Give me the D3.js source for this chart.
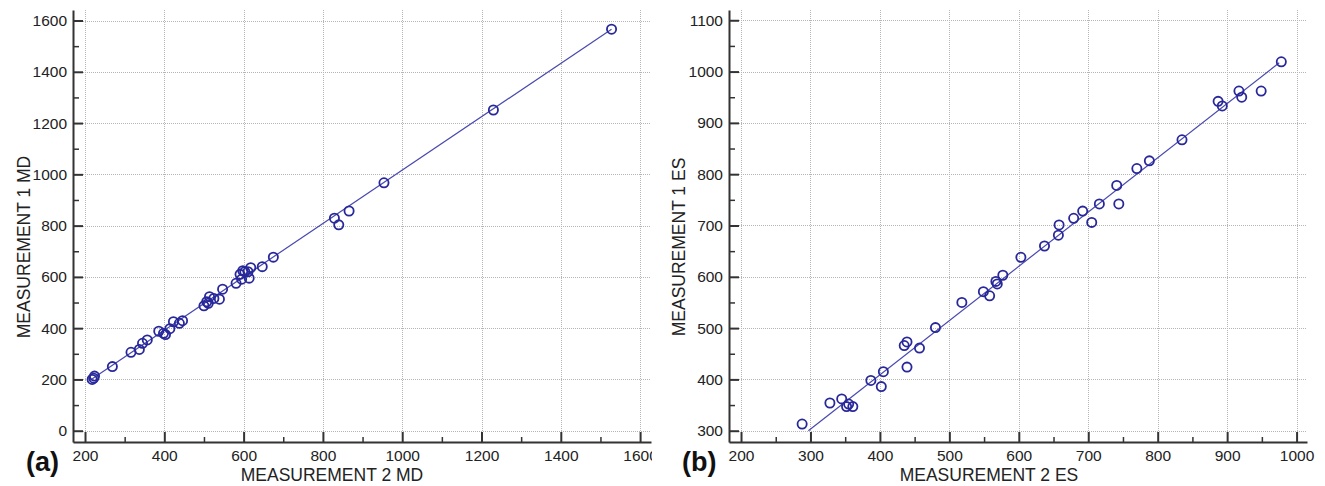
<!DOCTYPE html>
<html>
<head>
<meta charset="utf-8">
<script src="https://cdn.jsdelivr.net/npm/d3@7"></script>
<style>
  html, body { margin: 0; padding: 0; background: #fff; }
  svg { display: block; font-family: "Liberation Sans", Arial, sans-serif; }
</style>
</head>
<body>
<svg id="chart" width="1325" height="486"></svg>
<script>
// ---- Data ----
const mdX = [218, 222, 224, 269, 316, 337, 345, 357, 386, 398, 403, 414, 423, 438, 446, 500, 507, 511, 514, 525, 539, 547, 581, 591, 595, 598, 603, 611, 614, 618, 647, 675, 829, 840, 866, 954, 1230, 1528];
const mdY = [200, 205, 213, 250, 306, 317, 341, 354, 388, 380, 375, 398, 425, 419, 429, 487, 503, 497, 523, 516, 513, 552, 575, 610, 591, 624, 620, 620, 595, 636, 640, 677, 829, 803, 857, 967, 1251, 1566];
const mdFitX = [211, 1528];
const mdFitY = [195, 1566];

const esX = [288, 328, 345, 352, 355, 361, 387, 402, 405, 435, 439, 439, 457, 480, 518, 549, 558, 567, 569, 577, 603, 637, 657, 658, 679, 692, 705, 716, 741, 744, 770, 788, 835, 887, 893, 917, 921, 949, 978];
const esY = [313, 354, 362, 347, 352, 347, 398, 386, 415, 466, 473, 424, 461, 501, 550, 571, 563, 591, 586, 603, 638, 660, 681, 701, 714, 728, 706, 742, 778, 742, 811, 826, 867, 942, 933, 962, 950, 962, 1019];
const esFitX = [297, 975];
const esFitY = [300, 1017];

const mdXTicks = [200, 400, 600, 800, 1000, 1200, 1400, 1600];
const mdXMinor = [300, 500, 700, 900, 1100, 1300, 1500];
const mdYTicks = [0, 200, 400, 600, 800, 1000, 1200, 1400, 1600];
const mdYMinor = [100, 300, 500, 700, 900, 1100, 1300, 1500];

const esXTicks = [200, 300, 400, 500, 600, 700, 800, 900, 1000];
const esXMinor = [250, 350, 450, 550, 650, 750, 850, 950];
const esYTicks = [300, 400, 500, 600, 700, 800, 900, 1000, 1100];
const esYMinor = [350, 450, 550, 650, 750, 850, 950, 1050];

const panels = [
  { label: "(a)", xTitle: "MEASUREMENT 2 MD", yTitle: "MEASUREMENT 1 MD",
    xs: mdX, ys: mdY, fitX: mdFitX, fitY: mdFitY,
    xTicks: mdXTicks, xMinor: mdXMinor, yTicks: mdYTicks, yMinor: mdYMinor,
    xDomain: [169.7, 1627.5], yDomain: [-44, 1641],
    left: 73, right: 651, top: 10, bottom: 442,
    xTitleX: 332, yTitleX: 24, labelX: 26, clip: 652 },
  { label: "(b)", xTitle: "MEASUREMENT 2 ES", yTitle: "MEASUREMENT 1 ES",
    xs: esX, ys: esY, fitX: esFitX, fitY: esFitY,
    xTicks: esXTicks, xMinor: esXMinor, yTicks: esYTicks, yMinor: esYMinor,
    xDomain: [182.7, 1015], yDomain: [278, 1120],
    left: 729, right: 1307, top: 10, bottom: 442,
    xTitleX: 989, yTitleX: 679, labelX: 682, clip: null }
];

const svg = d3.select("#chart");
const axisColor = "#333";
const markColor = "#28289a";
const lineColor = "#4848b0";

panels.forEach((p, i) => {
  let g = svg.append("g");
  if (p.clip) {
    svg.append("clipPath").attr("id", "clip" + i)
      .append("rect").attr("x", 0).attr("y", 0).attr("width", p.clip).attr("height", 486);
    g.attr("clip-path", `url(#clip${i})`);
  }
  const x = d3.scaleLinear().domain(p.xDomain).range([p.left, p.right]);
  const y = d3.scaleLinear().domain(p.yDomain).range([p.bottom, p.top]);

  // grid
  const grid = g.append("g").attr("stroke", "#b5b5b5").attr("stroke-width", 1)
    .attr("stroke-dasharray", "1,1");
  grid.selectAll("line.vx").data(p.xTicks).join("line")
    .attr("x1", d => Math.round(x(d)) + 0.5).attr("x2", d => Math.round(x(d)) + 0.5)
    .attr("y1", p.top).attr("y2", p.bottom);
  grid.selectAll("line.hy").data(p.yTicks).join("line")
    .attr("x1", p.left).attr("x2", p.right)
    .attr("y1", d => Math.round(y(d)) + 0.5).attr("y2", d => Math.round(y(d)) + 0.5);

  // fit line
  g.append("line")
    .attr("x1", x(p.fitX[0])).attr("y1", y(p.fitY[0]))
    .attr("x2", x(p.fitX[1])).attr("y2", y(p.fitY[1]))
    .attr("stroke", lineColor).attr("stroke-width", 1.2);

  // points
  g.append("g").selectAll("circle").data(p.xs.map((v, k) => [v, p.ys[k]])).join("circle")
    .attr("cx", d => x(d[0])).attr("cy", d => y(d[1])).attr("r", 4.6)
    .attr("fill", "none").attr("stroke", markColor).attr("stroke-width", 1.8);

  // axes
  const styleAxis = sel => {
    sel.select(".domain").attr("stroke", axisColor).attr("stroke-width", 2);
    sel.selectAll(".tick line").attr("stroke", axisColor).attr("stroke-width", 2);
    sel.selectAll(".tick text").attr("fill", "#222").style("font-size", "15.5px")
      .style("font-family", '"Liberation Sans", Arial, sans-serif');
  };
  const xMinG = g.append("g").attr("transform", `translate(0,${p.bottom})`)
    .call(d3.axisBottom(x).tickValues(p.xMinor).tickSize(-5).tickSizeOuter(0).tickFormat(""));
  xMinG.select(".domain").remove();
  xMinG.selectAll(".tick line").attr("stroke", axisColor).attr("stroke-width", 1.5);
  const yMinG = g.append("g").attr("transform", `translate(${p.left},0)`)
    .call(d3.axisLeft(y).tickValues(p.yMinor).tickSize(-6).tickSizeOuter(0).tickFormat(""));
  yMinG.select(".domain").remove();
  yMinG.selectAll(".tick line").attr("stroke", axisColor).attr("stroke-width", 1.5);

  g.append("g").attr("transform", `translate(0,${p.bottom})`)
    .call(d3.axisBottom(x).tickValues(p.xTicks).tickSize(-10).tickSizeOuter(0).tickPadding(8).tickFormat(d3.format("d")))
    .call(styleAxis);
  g.append("g").attr("transform", `translate(${p.left},0)`)
    .call(d3.axisLeft(y).tickValues(p.yTicks).tickSize(-10).tickSizeOuter(0).tickPadding(6).tickFormat(d3.format("d")))
    .call(styleAxis);

  // titles
  svg.append("text").attr("x", p.xTitleX).attr("y", 481).attr("text-anchor", "middle")
    .attr("fill", "#222").style("font-size", "17.5px").text(p.xTitle);
  svg.append("text").attr("transform", `translate(${p.yTitleX + 6},247) rotate(-90)`)
    .attr("text-anchor", "middle").attr("fill", "#222").style("font-size", "17.5px").text(p.yTitle);
  svg.append("text").attr("x", p.labelX).attr("y", 471).attr("fill", "#111")
    .style("font-size", "27px").style("font-weight", "bold").text(p.label);
});
</script>
</body>
</html>
